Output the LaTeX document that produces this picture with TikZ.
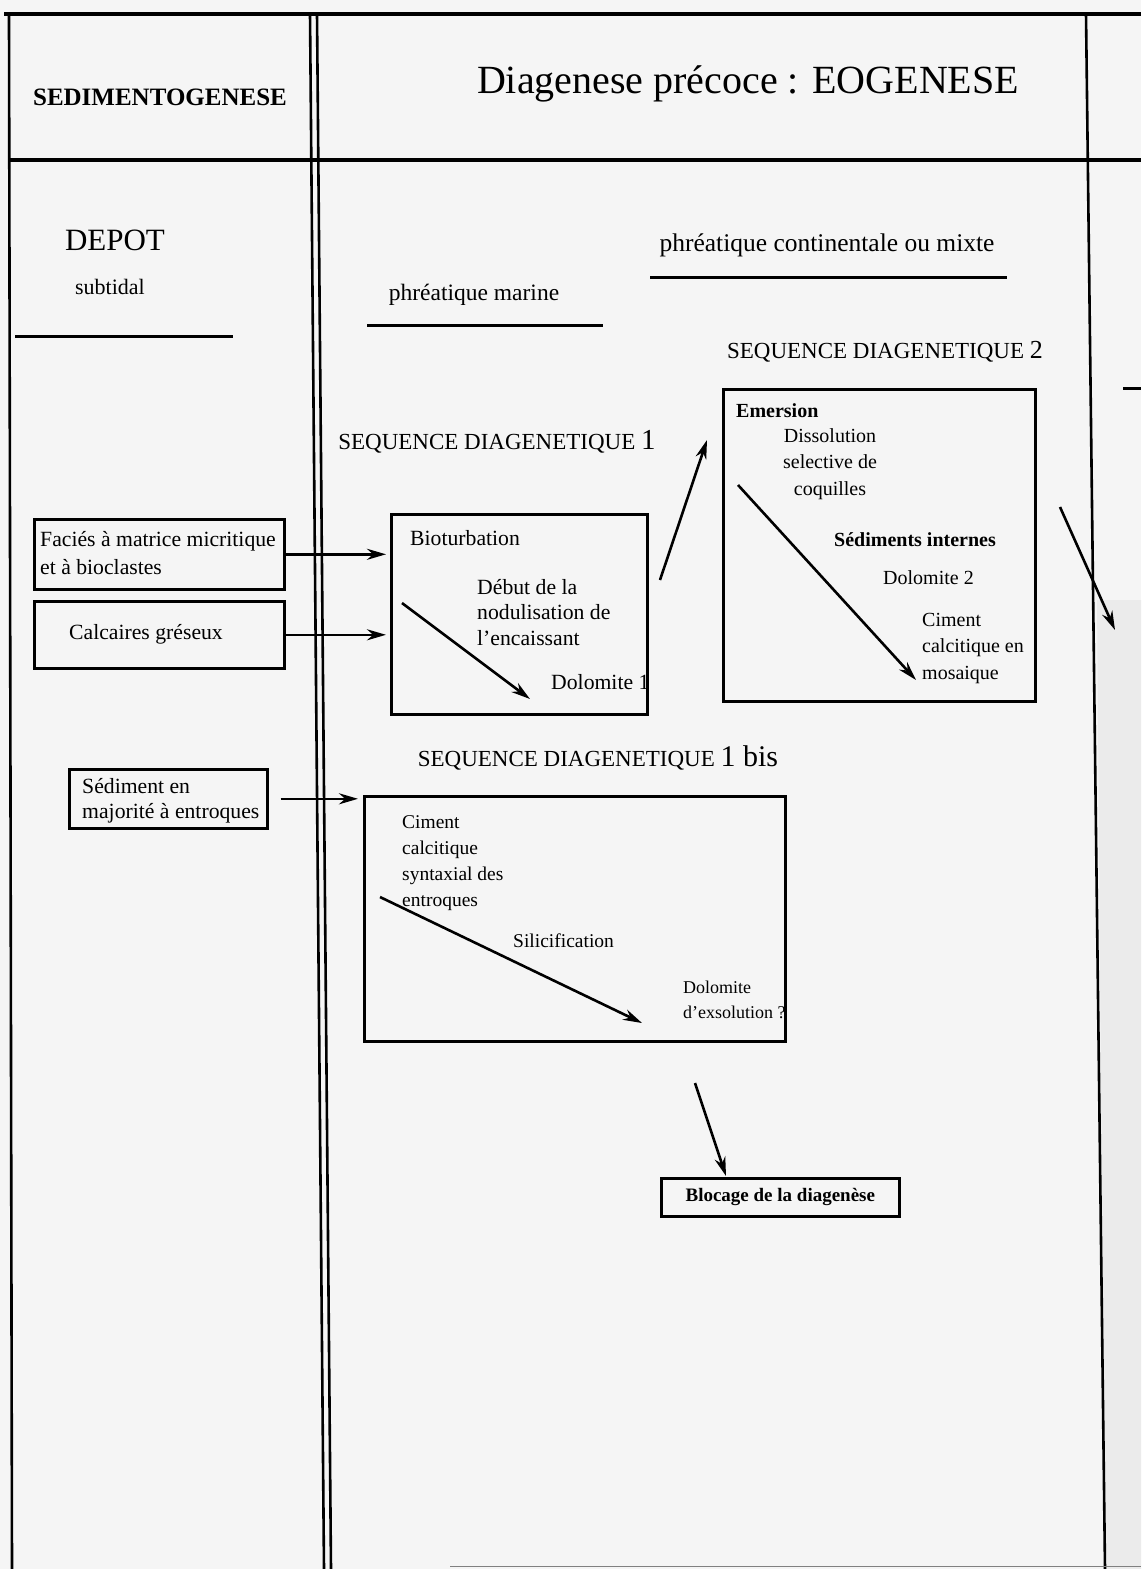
\documentclass[tikz,border=0pt]{standalone}
\usepackage{fontspec}
\setmainfont{Liberation Serif}
\usetikzlibrary{arrows.meta}
\newcommand\fsz[2]{\fontsize{#1}{#2}\selectfont}
\begin{document}
\begin{tikzpicture}[x=1pt,y=-1pt,
  frame/.style={line width=4pt},
  sep/.style={line width=2.6pt},
  rule/.style={line width=3pt},
  box/.style={draw, line width=2.6pt, anchor=north west, inner sep=0pt},
  txt/.style={inner sep=0pt, align=left, anchor=north west, font=\fsz{21.7}{25.5}},
  txtb/.style={inner sep=0pt, align=left, anchor=north west, font=\fsz{20}{26.5}},
  txtc/.style={inner sep=0pt, align=left, anchor=north west, font=\fsz{19.5}{26}},
  head/.style={inner sep=0pt, font=\fsz{23}{26}},
  arr/.style={line width=2.6pt, -{Stealth[length=19pt,width=11pt]}},
]
\fill[gray!8] (0,0) rectangle (1141,1569);
\fill[gray!16] (1097,600) -- (1141,600) -- (1141,1569) -- (1105,1569) -- cycle;
\useasboundingbox (0,0) rectangle (1141,1569);

% frame
\draw[frame] (4,14) -- (1141,14);
\draw[frame] (8,160) -- (1141,160);
\draw[sep] (9,14) -- (12,1569);
\draw[sep] (310,14) -- (324,1569);
\draw[sep] (317,14) -- (331,1569);
\draw[sep] (1086,14) -- (1105,1569);
\draw[rule] (1123,388) -- (1141,388);
\draw[line width=1pt, gray] (450,1566) -- (1141,1566);

% headers
\node[inner sep=0pt, font=\fsz{25}{28}\bfseries] (sedi) at (160,97) {SEDIMENTOGENESE};
\node[inner sep=0pt, font=\fsz{40}{46}] (eog) at (748,84) {Diagenese précoce : EOGENESE};

\node[inner sep=0pt, font=\fsz{31}{34}] (depot) at (115,240) {DEPOT};
\node[inner sep=0pt, font=\fsz{22}{25}] (subt) at (110,287) {subtidal};
\draw[rule] (15,336) -- (233,336);

\node[inner sep=0pt, font=\fsz{23.5}{26}] (pmar) at (474,295) {phréatique marine};
\draw[rule] (367,325) -- (603,325);
\node[inner sep=0pt, font=\fsz{25.5}{28}] (pcont) at (827,245) {phréatique continentale ou mixte};
\draw[rule] (650,277) -- (1007,277);

\node[head] (t2) at (885,352) {SEQUENCE DIAGENETIQUE {\fsz{26}{26}2}};
\node[head] (t1) at (497,442) {SEQUENCE DIAGENETIQUE {\fsz{29}{28}1}};
\node[head] (t1b) at (598,758) {SEQUENCE DIAGENETIQUE {\fsz{30}{28}1 bis}};

% left boxes
\node[box, minimum width=250pt, minimum height=70pt] (facies) at (33,518) {};
\node[txt, font=\fsz{21.7}{28}] (faciestxt) at (40,531) {Faciés à matrice micritique\\et à bioclastes};
\node[box, minimum width=250pt, minimum height=67pt] (calc) at (33,600) {};
\node[inner sep=0pt, font=\fsz{21.7}{25}] (calctxt) at (146,634) {Calcaires gréseux};
\node[box, minimum width=198pt, minimum height=59pt] (sed) at (68,768) {};
\node[txt] (sedtxt) at (82,778) {Sédiment en\\majorité à entroques};

% sequence 1
\node[box, minimum width=256pt, minimum height=200pt] (s1) at (390,513) {};
\node[txt] (bio) at (410,530) {Bioturbation};
\node[txt] (deb) at (477,579) {Début de la\\nodulisation de\\l'encaissant};
\node[txt] (dol1) at (551,674) {Dolomite 1};
\coordinate (s1a) at (402,603);
\coordinate (s1b) at (530,699);
\draw[arr] (s1a) -- (s1b);

% sequence 2
\node[box, minimum width=312pt, minimum height=312pt] (s2) at (722,388) {};
\node[txtb, font=\fsz{20}{26.5}\bfseries] (emer) at (736,403) {Emersion};
\node[inner sep=0pt, align=center, anchor=north, font=\fsz{20}{26.5}] (diss) at (830,428) {Dissolution\\selective de\\coquilles};
\node[txtb, font=\fsz{20}{26.5}\bfseries] (sedint) at (834,532) {Sédiments internes};
\node[txtb] (dol2) at (883,570) {Dolomite 2};
\node[txtb] (cim2) at (922,613) {Ciment\\calcitique en\\mosaique};
\coordinate (s2a) at (738,485);
\coordinate (s2b) at (916,680);
\draw[arr] (s2a) -- (s2b);

% sequence 1 bis
\node[box, minimum width=421pt, minimum height=245pt] (s1b) at (363,795) {};
\node[txtc] (cim1b) at (402,815) {Ciment\\calcitique\\syntaxial des\\entroques};
\node[txtc] (sil) at (513,934) {Silicification};
\node[txtc, font=\fsz{18}{25}] (dolex) at (683,981) {Dolomite\\d'exsolution ?};
\coordinate (s1ba) at (380,897);
\coordinate (s1bb) at (642,1023);
\draw[arr] (s1ba) -- (s1bb);

% blocage
\node[box, minimum width=238pt, minimum height=38pt] (bloc) at (660,1177) {};
\node[inner sep=0pt, font=\fsz{19}{22}\bfseries] (bloctxt) at (bloc.center) {Blocage de la diagenèse};

% connectors
\draw[arr] (facies.east) -- ([xshift=-4pt]facies.east -| s1.west);
\draw[arr] (calc.east) -- ([xshift=-4pt]calc.east -| s1.west);
\draw[arr, shorten <=12pt] (sed.east) -- ([xshift=-5pt]sed.east -| s1b.west);
\coordinate (u1) at (660,580);
\coordinate (u2) at (707,440);
\draw[arr] (u1) -- (u2);
\coordinate (v1) at (1060,507);
\coordinate (v2) at (1115,630);
\draw[arr] (v1) -- (v2);
\coordinate (w1) at (695,1083);
\coordinate (w2) at (726,1176);
\draw[arr] (w1) -- (w2);
\end{tikzpicture}
\end{document}
